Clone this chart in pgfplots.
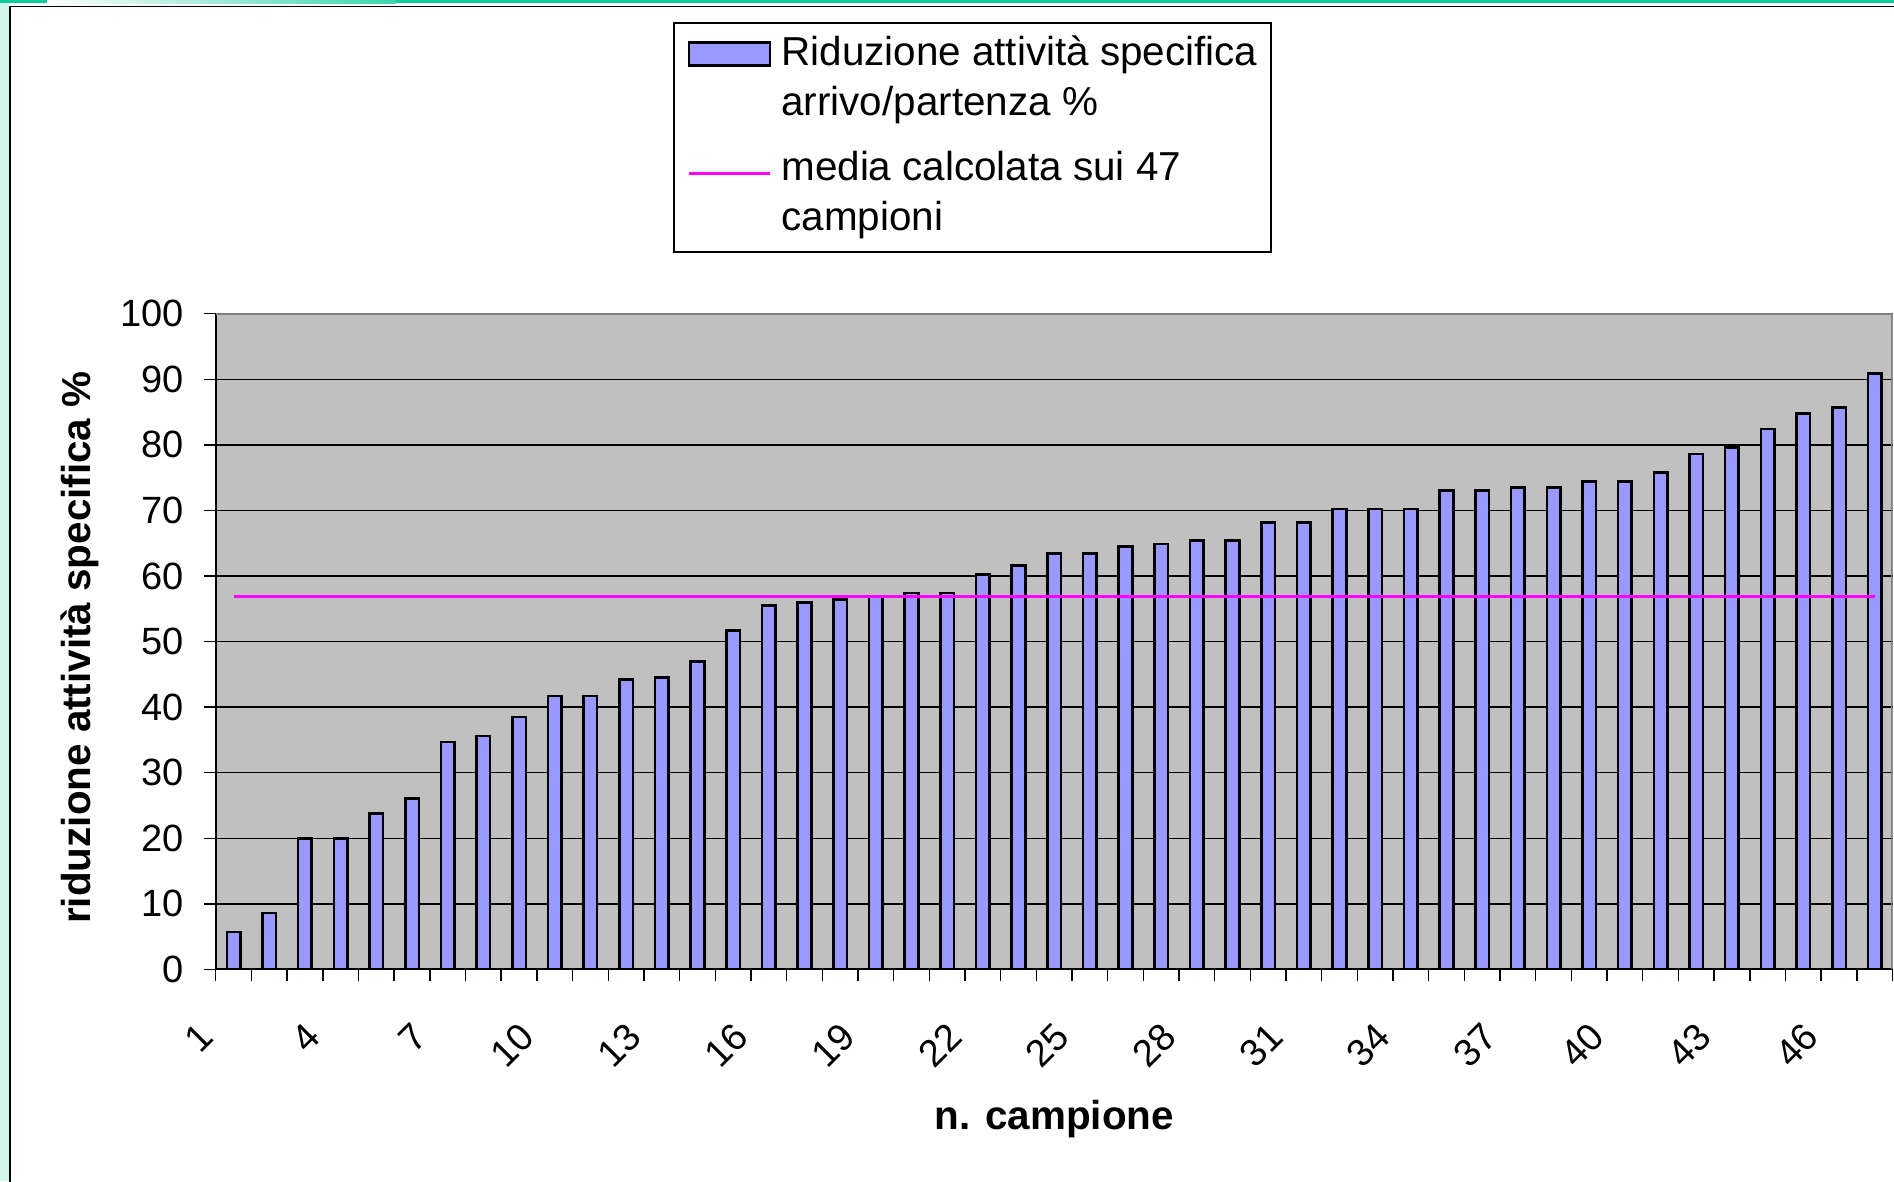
\documentclass[border=0pt]{standalone}
\usepackage{fontspec}
\setmainfont{Liberation Sans}
\usepackage{pgfplots}
\pgfplotsset{compat=1.18}
\definecolor{barblue}{RGB}{153,153,255}
\definecolor{plotgray}{RGB}{192,192,192}
\definecolor{mintbg}{RGB}{210,245,234}
\definecolor{tealband}{RGB}{12,204,153}
\definecolor{bordergray}{RGB}{128,128,128}
\definecolor{meanmag}{RGB}{255,0,255}
\begin{document}
\begin{tikzpicture}
\useasboundingbox (0pt,0pt) rectangle (473.5pt,295.25pt);
\fill[white] (0pt,0pt) rectangle (473.5pt,295.25pt);
\fill[mintbg] (0pt,0pt) rectangle (2.3pt,295.25pt);
\fill[tealband] (0pt,294.4pt) rectangle (473.5pt,295.25pt);
\shade[left color=white, right color=tealband!80] (11.75pt,294.4pt) rectangle (99pt,295.25pt);
\draw[black, line width=0.45pt] (2.4pt,-2pt) -- (2.4pt,293.6pt) -- (480pt,293.6pt);
\begin{axis}[
  at={(53.95pt,52.9pt)}, anchor=south west,
  scale only axis, width=419.175pt, height=163.925pt,
  xmin=0.5, xmax=47.5, ymin=0, ymax=100,
  axis background/.style={fill=plotgray},
  axis x line*=bottom, axis y line*=left,
  axis line style={-, black, line width=0.5pt},
  ytick={0,10,...,100},
  yticklabels={0,10,20,30,40,50,60,70,80,90,100},
  ymajorgrids,
  major grid style={black, line width=0.35pt},
  xtick={0.5,1.5,...,47.5}, xticklabels={},
  extra x ticks={1,4,7,10,13,16,19,22,25,28,31,34,37,40,43,46},
  extra x tick labels={1,4,7,10,13,16,19,22,25,28,31,34,37,40,43,46},
  extra x tick style={major tick length=0pt},
  tick align=outside, major tick length=3pt,
  tick style={black, line width=0.35pt},
  yticklabel style={font=\fontsize{9.5}{11}\selectfont, anchor=east, inner sep=0pt, xshift=-4.75pt},
  xticklabel style={font=\fontsize{9.5}{11}\selectfont, inner sep=0pt, xshift=-6.7pt, yshift=-15pt, rotate=45, anchor=east},
  xlabel={n. campione},
  ylabel={riduzione attività specifica \%},
  every axis x label/.style={at={(axis description cs:0.5,-0.2278)}, anchor=center, font=\bfseries\fontsize{10.1}{12}\selectfont},
  every axis y label/.style={at={(axis description cs:-0.0812,0.4908)}, rotate=90, anchor=center, font=\bfseries\fontsize{10.1}{12}\selectfont},
  legend cell align=left,
  legend style={at={(0.2727,1.4449)}, anchor=north west, draw=black, line width=0.4pt, fill=white,
    inner xsep=3.4pt, inner ysep=3.3pt, row sep=7pt, column sep=2.5pt,
    font=\fontsize{10.1}{12.4}\selectfont, cells={align=left},
    nodes={inner sep=0pt, text depth=, align=left}},
]
\addplot[ybar, bar width=3.4pt, fill=barblue, draw=black, line width=0.65pt,
  legend image code/.code={\path[draw=none, fill=none] (0pt,-10.5pt) rectangle (20.25pt,10.5pt);
    \draw[fill=barblue, draw=black, line width=0.6pt] (0pt,3.55pt) rectangle (20.25pt,9.3pt);}]
  coordinates {
  (1,5.7) (2,8.6) (3,20.0) (4,20.0) (5,23.8) (6,26.1) (7,34.7) (8,35.6)
  (9,38.5) (10,41.7) (11,41.7) (12,44.2) (13,44.5) (14,47.0) (15,51.7) (16,55.5)
  (17,56.0) (18,56.4) (19,56.9) (20,57.4) (21,57.4) (22,60.2) (23,61.6) (24,63.4)
  (25,63.4) (26,64.5) (27,64.9) (28,65.4) (29,65.4) (30,68.2) (31,68.2) (32,70.2)
  (33,70.2) (34,70.2) (35,73.0) (36,73.0) (37,73.5) (38,73.5) (39,74.4) (40,74.4)
  (41,75.8) (42,78.6) (43,79.6) (44,82.4) (45,84.8) (46,85.7) (47,90.9)
  };
\addlegendentry{Riduzione attività specifica\\arrivo/partenza \%}
\addplot[meanmag, line width=0.75pt, sharp plot, mark=none,
  legend image code/.code={\path[draw=none, fill=none] (0pt,-10.5pt) rectangle (20.25pt,10.5pt);
    \draw[meanmag, line width=0.75pt] (0pt,5.5pt) -- (20.25pt,5.5pt);}]
  coordinates {(1,56.9) (47,56.9)};
\addlegendentry{media calcolata sui 47\\campioni}
\draw[bordergray, line width=0.6pt] (rel axis cs:0,1) -- (rel axis cs:1,1) -- (rel axis cs:1,0);
\end{axis}
\end{tikzpicture}
\end{document}
